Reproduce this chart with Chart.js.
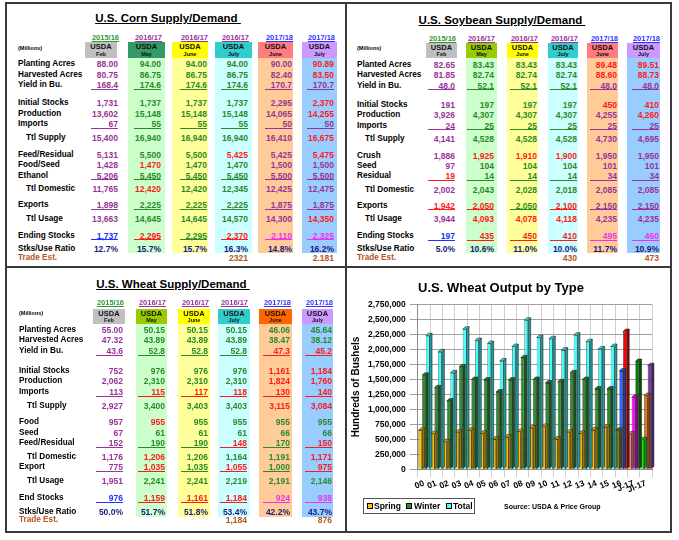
<!DOCTYPE html>
<html>
<head>
<meta charset="utf-8">
<title>Supply/Demand</title>
<script src="https://cdn.jsdelivr.net/npm/chart.js@4.4.1/dist/chart.umd.min.js"></script>
<style>
  body { margin: 0; background: #fff; }
  #page {
    position: relative; width: 679px; height: 540px; overflow: hidden;
    font-family: "Liberation Sans", Arial, sans-serif; font-weight: bold;
  }
  #page div { position: absolute; white-space: nowrap; box-sizing: border-box; }
  .t { line-height: 10px; font-size: 8.5px; }
  .title { font-size: 11.5px; line-height: 14px; text-decoration: underline; text-align: center; color: #000; }
  .yr { font-size: 7.5px; text-decoration: underline; text-align: right; }
  .usda { font-size: 7.5px; text-align: center; color: #111; line-height: 8px; }
  .mon { font-size: 5.5px; text-align: center; color: #111; line-height: 6px; }
  .mill { font-size: 5.5px; color: #000; }
  .lab { color: #000; font-size: 8.2px; }
  #chartBox { left: 347px; top: 270px; width: 323px; height: 261px; }
  #legend { left: 363px; top: 498px; width: 112px; height: 16px; border: 1px solid #555; background: #fff; }
  .sw { width: 6px; height: 6px; border: 1px solid #000; top: 4px; }
  .lt { font-size: 8.5px; line-height: 10px; top: 2px; color: #000; }
</style>
</head>
<body>
<div id="page">
  <div id="chartBox"><canvas id="wheatChart" width="323" height="261"></canvas></div>
</div>
<script>
// ---------- table data ----------
const colYears = ['2015/16', '2016/17', '2016/17', '2016/17', '2017/18', '2017/18'];
const colMonths = ['Feb', 'May', 'June', 'July', 'June', 'July'];

const cornLabels = ['Planting Acres', 'Harvested Acres', 'Yield in Bu.', 'Initial Stocks', 'Production', 'Imports',
  'Ttl Supply', 'Feed/Residual', 'Food/Seed', 'Ethanol', 'Ttl Domestic', 'Exports', 'Ttl Usage', 'Ending Stocks', 'Stks/Use Ratio'];
const cornFeb16 = ['88.00', '80.75', '168.4', '1,731', '13,602', '67', '15,400', '5,131', '1,428', '5,206', '11,765', '1,898', '13,663', '1,737', '12.7%'];
const cornMay17 = ['94.00', '86.75', '174.6', '1,737', '15,148', '55', '16,940', '5,500', '1,470', '5,450', '12,420', '2,225', '14,645', '2,295', '15.7%'];
const cornJun17 = ['94.00', '86.75', '174.6', '1,737', '15,148', '55', '16,940', '5,500', '1,470', '5,450', '12,420', '2,225', '14,645', '2,295', '15.7%'];
const cornJul17 = ['94.00', '86.75', '174.6', '1,737', '15,148', '55', '16,940', '5,425', '1,470', '5,450', '12,345', '2,225', '14,570', '2,370', '16.3%'];
const cornJun18 = ['90.00', '82.40', '170.7', '2,295', '14,065', '50', '16,410', '5,425', '1,500', '5,500', '12,425', '1,875', '14,300', '2,110', '14.8%'];
const cornJul18 = ['90.89', '83.50', '170.7', '2,370', '14,255', '50', '16,675', '5,475', '1,500', '5,500', '12,475', '1,875', '14,350', '2,325', '16.2%'];
const cornTrade = ['', '', '', '2321', '', '2.181'];

const soyLabels = ['Planted Acres', 'Harvested Acres', 'Yield in Bu.', 'Initial Stocks', 'Production', 'Imports',
  'Ttl Supply', 'Crush', 'Seed', 'Residual', 'Ttl Domestic', 'Exports', 'Ttl Usage', 'Ending Stocks', 'Stks/Use Ratio'];
const soyFeb16 = ['82.65', '81.85', '48.0', '191', '3,926', '24', '4,141', '1,886', '97', '19', '2,002', '1,942', '3,944', '197', '5.0%'];
const soyMay17 = ['83.43', '82.74', '52.1', '197', '4,307', '25', '4,528', '1,925', '104', '14', '2,043', '2,050', '4,093', '435', '10.6%'];
const soyJun17 = ['83.43', '82.74', '52.1', '197', '4,307', '25', '4,528', '1,910', '104', '14', '2,028', '2,050', '4,078', '450', '11.0%'];
const soyJul17 = ['83.43', '82.74', '52.1', '197', '4,307', '25', '4,528', '1,900', '104', '14', '2,018', '2,100', '4,118', '410', '10.0%'];
const soyJun18 = ['89.48', '88.60', '48.0', '450', '4,255', '25', '4,730', '1,950', '101', '34', '2,085', '2,150', '4,235', '495', '11.7%'];
const soyJul18 = ['89.51', '88.73', '48.0', '410', '4,260', '25', '4,695', '1,950', '101', '34', '2,085', '2,150', '4,235', '460', '10.9%'];
const soyTrade = ['', '', '', '430', '', '473'];

const wheatLabels = ['Planting Acres', 'Harvested Acres', 'Yield in Bu.', 'Initial Stocks', 'Production', 'Imports',
  'Ttl Supply', 'Food', 'Seed', 'Feed/Residual', 'Ttl Domestic', 'Export', 'Ttl Usage', 'End Stocks', 'Stks/Use Ratio'];
const wheatFeb16 = ['55.00', '47.32', '43.6', '752', '2,062', '113', '2,927', '957', '67', '152', '1,176', '775', '1,951', '976', '50.0%'];
const wheatMay17 = ['50.15', '43.89', '52.8', '976', '2,310', '115', '3,400', '955', '61', '190', '1,206', '1,035', '2,241', '1,159', '51.7%'];
const wheatJun17 = ['50.15', '43.89', '52.8', '976', '2,310', '117', '3,403', '955', '61', '190', '1,206', '1,035', '2,241', '1,161', '51.8%'];
const wheatJul17 = ['50.15', '43.89', '52.8', '976', '2,310', '118', '3,403', '955', '61', '148', '1,164', '1,055', '2,219', '1,184', '53.4%'];
const wheatJun18 = ['46.06', '38.47', '47.3', '1,161', '1,824', '130', '3,115', '955', '66', '170', '1,191', '1,000', '2,191', '924', '42.2%'];
const wheatJul18 = ['45.64', '38.12', '45.2', '1,184', '1,760', '140', '3,084', '955', '66', '150', '1,171', '975', '2,146', '938', '43.7%'];
const wheatTrade = ['', '', '', '1,184', '', '876'];

// ---------- chart data ----------
const wheatYears = ['00', '01', '02', '03', '04', '05', '06', '07', '08', '09', '10', '11', '12', '13', '14', '15', '16', 'J-17', 'Jl-17'];
const springOutput = [650000, 595000, 460000, 620000, 650000, 600000, 505000, 540000, 630000, 690000, 715000, 505000, 620000, 600000, 655000, 700000, 650000, 590000, 495000];
const winterOutput = [1570000, 1360000, 1140000, 1710000, 1500000, 1490000, 1290000, 1490000, 1860000, 1500000, 1440000, 1460000, 1610000, 1500000, 1340000, 1340000, 1640000, 1200000, 1230000];
const totalOutput = [2230000, 1960000, 1610000, 2340000, 2150000, 2100000, 1810000, 2050000, 2490000, 2200000, 2180000, 1990000, 2240000, 2130000, 2010000, 2050000, 2300000, 1800000, 1730000];
const yTicks = [0, 250000, 500000, 750000, 1000000, 1250000, 1500000, 1750000, 2000000, 2250000, 2500000, 2750000];

// ---------- styling ----------
const ink = { p: '#993399', g: '#2A8A2A', r: '#FF1A1A', b: '#1A33FF', m: '#F030F0', n: '#1A1A80' };
const yearInk = ['#339933', '#993399', '#993399', '#993399', '#3333FF', '#3333FF'];
const bodyTint = [null, '#CCFFCC', '#FFFF99', '#CCFFFF', '#FFCC99', '#99CCFF'];
const tradeInk = '#B5541C';
const indentRows = [6, 10, 12];
const underRows = [2, 5, 9, 11, 13];

const page = document.getElementById('page');

function el(cls, css, text) {
    const d = document.createElement('div');
    d.className = cls;
    Object.assign(d.style, css);
    if (text !== undefined) d.textContent = text;
    page.appendChild(d);
    return d;
}

// Supply/demand table
function buildTable(t) {
    el('title', { left: (t.titleX - 120) + 'px', top: (t.titleY - 7) + 'px', width: '240px' }, t.title + '\u00a0');
    el('mill', { left: t.labelX + 'px', top: (t.millY - 3) + 'px' }, '(Millions)');

    t.cols.forEach((vals, c) => {
        const bl = t.boxL[c], bw = t.boxR[c] - t.boxL[c], vr = t.valR[c];
        if (bodyTint[c]) {
            el('', { left: bl + 'px', top: t.boxBot + 'px', width: bw + 'px', height: (t.bgEnd - t.boxBot) + 'px', background: bodyTint[c] });
        }
        el('', { left: bl + 'px', top: t.boxTop + 'px', width: bw + 'px', height: (t.boxBot - t.boxTop) + 'px', background: t.head[c] });
        el('usda', { left: bl + 'px', top: (t.boxTop + 1) + 'px', width: bw + 'px' }, 'USDA');
        el('mon', { left: bl + 'px', top: (t.boxBot - 7) + 'px', width: bw + 'px' }, colMonths[c]);
        el('yr', { left: (vr - 40) + 'px', top: (t.yearY - 5) + 'px', width: '41px', color: yearInk[c] }, colYears[c]);

        vals.forEach((v, r) => {
            const y = t.rowY[r];
            const color = ink[t.inks[c][r]];
            el('t', { left: (vr - 40) + 'px', top: (y - 5) + 'px', width: '40px', textAlign: 'right', color: color }, v);
            if (underRows.includes(r)) {
                el('', { left: (vr - 27) + 'px', top: (y + 3.5) + 'px', width: '27px', height: '1.3px', background: color });
            }
        });
        if (t.trade[c]) {
            el('t', { left: (vr - 40) + 'px', top: (t.tradeY - 5) + 'px', width: '40px', textAlign: 'right', color: tradeInk }, t.trade[c]);
        }
    });

    t.labels.forEach((lab, r) => {
        const x = indentRows.includes(r) ? t.indentX : t.labelX;
        el('t lab', { left: x + 'px', top: (t.rowY[r] - 5) + 'px' }, lab);
    });
    el('t lab', { left: t.labelX + 'px', top: (t.tradeY - 5) + 'px', color: tradeInk }, 'Trade Est.');
}

buildTable({
    title: 'U.S. Corn Supply/Demand', titleX: 168, titleY: 18,
    labelX: 18, indentX: 26, millY: 48, yearY: 38, boxTop: 42, boxBot: 58, bgEnd: 253,
    boxL: [85, 128, 172, 215, 258, 302], boxR: [117, 165, 208, 252, 293, 337],
    valR: [118, 161, 207, 248, 292, 334],
    head: ['#C0C0C0', '#339966', '#FFFF00', '#33CCCC', '#FF7C80', '#CC99FF'],
    rowY: [64, 74.5, 85, 103, 113.5, 124, 137.5, 154.5, 165, 175.5, 189, 205, 218.5, 235.5, 249], tradeY: 258,
    labels: cornLabels,
    cols: [cornFeb16, cornMay17, cornJun17, cornJul17, cornJun18, cornJul18],
    inks: ['pppppppppppppbn', 'ggggggggrgrggrn', 'ggggggggggggggn', 'gggggggrgggggrn', 'pppppppppppppmn', 'rrprrprrpppprmn'],
    trade: cornTrade
});

buildTable({
    title: 'U.S. Soybean Supply/Demand', titleX: 502, titleY: 20,
    labelX: 357, indentX: 365, millY: 48, yearY: 38.5, boxTop: 43, boxBot: 58, bgEnd: 253,
    boxL: [426, 466, 507, 548, 587, 627], boxR: [457, 497, 538, 578, 618, 660],
    valR: [455, 494, 537, 577, 617, 659],
    head: ['#C0C0C0', '#99CC00', '#FFFF00', '#33CCCC', '#FF7C80', '#CC99FF'],
    rowY: [64.5, 74.7, 85.5, 104.5, 115, 125.5, 138.5, 155.5, 165.7, 176, 190, 205.5, 219, 236, 249], tradeY: 257.5,
    labels: soyLabels,
    cols: [soyFeb16, soyMay17, soyJun17, soyJul17, soyJun18, soyJul18],
    inks: ['ppppppppprprpbn', 'gggggggrgggrrrn', 'gggggggrggggrrn', 'gggggggrgggrrrn', 'rrprpppppppppmn', 'rrprrppppppppmn'],
    trade: soyTrade
});

buildTable({
    title: 'U.S. Wheat Supply/Demand', titleX: 173, titleY: 284,
    labelX: 19, indentX: 27, millY: 313, yearY: 303, boxTop: 309, boxBot: 324, bgEnd: 517,
    boxL: [93, 136, 178, 218, 259, 302], boxR: [125, 167, 210, 250, 292, 333],
    valR: [123, 165, 208, 247, 290, 332],
    head: ['#C0C0C0', '#99CC00', '#FFFF00', '#33CCCC', '#FF6600', '#CC99FF'],
    rowY: [330, 340.3, 351, 370.7, 381.3, 392, 405.7, 422.3, 433, 443, 457, 467.3, 481, 498.3, 511.7], tradeY: 520.3,
    labels: wheatLabels,
    cols: [wheatFeb16, wheatMay17, wheatJun17, wheatJul17, wheatJun18, wheatJul18],
    inks: ['pppppppppppppbn', 'gggggrgrggrrgrn', 'gggggrgggggggrn', 'gggggrgggrgrgrn', 'ggrrrrrggggggmn', 'ggrrrrrggrrrgmn'],
    trade: wheatTrade
});

// Panel frame
el('', { left: '5px', top: '2px', width: '667px', height: '531px', border: '2px solid #3a3a3a' });
el('', { left: '345px', top: '2px', width: '2px', height: '531px', background: '#3a3a3a' });
el('', { left: '5px', top: '266px', width: '667px', height: '2px', background: '#3a3a3a' });

// ---------- wheat output chart ----------
Chart.defaults.font.family = "'Liberation Sans', Arial, sans-serif";
Chart.defaults.color = '#000';

const springInk = wheatYears.map((y, i) => i < 16 ? '#FFC000' : ['#808000', '#FF8080', '#00FF00'][i - 16]);
const winterInk = wheatYears.map((y, i) => i < 16 ? '#2E8B2E' : ['#3366FF', '#FF00FF', '#E8731A'][i - 16]);
const totalInk = wheatYears.map((y, i) => i < 16 ? '#40FFFF' : ['#FF0000', '#008000', '#7030A0'][i - 16]);

function darken(hex, f) {
    const n = parseInt(hex.slice(1), 16);
    const r = Math.round((n >> 16) * f), g = Math.round(((n >> 8) & 255) * f), b = Math.round((n & 255) * f);
    return 'rgb(' + r + ',' + g + ',' + b + ')';
}

// Adds a shallow side and top face to each bar, back row first
const depthPlugin = {
    id: 'depth',
    afterDatasetsDraw(chart) {
        const ctx = chart.ctx;
        const d = 2.5;
        for (let i = chart.data.datasets.length - 1; i >= 0; i--) {
            const ds = chart.data.datasets[i];
            chart.getDatasetMeta(i).data.forEach((bar, j) => {
                const c = ds.backgroundColor[j];
                const x0 = bar.x - bar.width / 2, x1 = bar.x + bar.width / 2;
                ctx.save();
                ctx.strokeStyle = '#222';
                ctx.lineWidth = 0.6;
                ctx.fillStyle = darken(c, 0.6);
                ctx.beginPath();
                ctx.moveTo(x1, bar.y); ctx.lineTo(x1 + d, bar.y - d);
                ctx.lineTo(x1 + d, bar.base - d); ctx.lineTo(x1, bar.base);
                ctx.closePath(); ctx.fill(); ctx.stroke();
                ctx.fillStyle = darken(c, 0.85);
                ctx.beginPath();
                ctx.moveTo(x0, bar.y); ctx.lineTo(x0 + d, bar.y - d);
                ctx.lineTo(x1 + d, bar.y - d); ctx.lineTo(x1, bar.y);
                ctx.closePath(); ctx.fill(); ctx.stroke();
                ctx.restore();
            });
        }
    }
};

new Chart(document.getElementById('wheatChart').getContext('2d'), {
    type: 'bar',
    data: {
        labels: wheatYears,
        datasets: [
            { label: 'Spring', data: springOutput, backgroundColor: springInk, borderColor: '#222', borderWidth: 0.6 },
            { label: 'Winter', data: winterOutput, backgroundColor: winterInk, borderColor: '#222', borderWidth: 0.6 },
            { label: 'Total', data: totalOutput, backgroundColor: totalInk, borderColor: '#222', borderWidth: 0.6 }
        ]
    },
    options: {
        responsive: false,
        animation: false,
        layout: { padding: { left: 3, right: 18, bottom: 35 } },
        datasets: { bar: { categoryPercentage: 0.9, barPercentage: 1 } },
        plugins: {
            legend: { display: false },
            tooltip: { enabled: false },
            title: {
                display: true,
                text: 'U.S. Wheat Output by Type',
                font: { size: 13, weight: 'bold' },
                color: '#000',
                padding: { top: 11, bottom: 8 }
            }
        },
        scales: {
            x: {
                grid: { color: '#d0d0d0' },
                border: { color: '#888' },
                ticks: {
                    autoSkip: false, minRotation: 22, maxRotation: 22, padding: 1,
                    font: { size: 8.5, weight: 'bold' }, color: '#000'
                }
            },
            y: {
                min: 0,
                max: 2750000,
                afterBuildTicks: axis => { axis.ticks = yTicks.map(v => ({ value: v })); },
                grid: { color: '#a0a0a0' },
                border: { color: '#888' },
                ticks: {
                    padding: 4,
                    font: { size: 8.5, weight: 'bold' },
                    color: '#000',
                    callback: v => v.toLocaleString('en-US')
                },
                title: {
                    display: true,
                    text: 'Hundreds of Bushels',
                    font: { size: 10, weight: 'bold' },
                    color: '#000',
                    padding: { top: 0, bottom: 2 }
                }
            }
        }
    },
    plugins: [depthPlugin]
});

// Legend box and source note under the chart
const legend = el('', {}, undefined);
legend.id = 'legend';
[['Spring', '#FFC000', 3, 10], ['Winter', '#2E8B2E', 42, 50], ['Total', '#40FFFF', 82, 89]].forEach(item => {
    const sw = document.createElement('div');
    sw.className = 'sw';
    Object.assign(sw.style, { left: item[2] + 'px', background: item[1] });
    legend.appendChild(sw);
    const tx = document.createElement('div');
    tx.className = 'lt';
    tx.style.left = item[3] + 'px';
    tx.textContent = item[0];
    legend.appendChild(tx);
});
el('t', { left: '504px', top: '502px', fontSize: '7px', color: '#000' }, 'Source: USDA & Price Group');
</script>
</body>
</html>
